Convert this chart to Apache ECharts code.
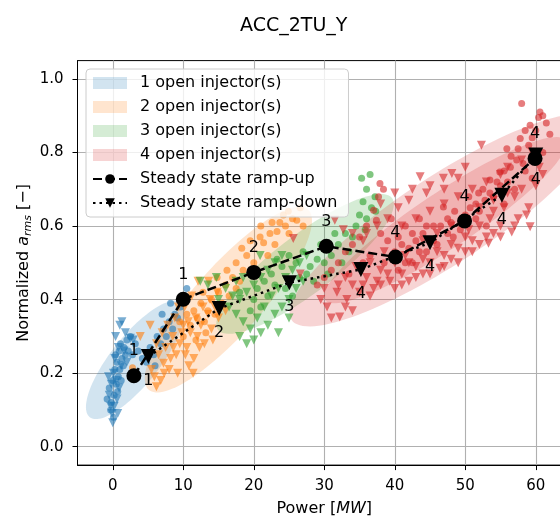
<!DOCTYPE html>
<html>
<head>
<meta charset="utf-8">
<script src="https://cdn.jsdelivr.net/npm/echarts@6/dist/echarts.min.js"></script>
<style>
html, body { margin: 0; padding: 0; background: #fff; }
#chart { width: 560px; height: 516px; }
</style>
</head>
<body>
<div id="chart"></div>
<script>
// scatter clouds, [power MW, normalized a_rms]; "up" = circles, "down" = triangles
const blueUp = [[-0.8,0.13],[-0.5,0.16],[-0.2,0.12],[0,0.18],[0.2,0.14],[0.3,0.21],[0.5,0.17],[0.6,0.23],[0.8,0.19],[0.9,0.26],[1.0,0.21],[1.1,0.28],[1.3,0.24],[1.5,0.22],[1.6,0.27],[1.8,0.25],[2.0,0.29],[2.2,0.26],[2.5,0.3],[0.4,0.25],[-0.3,0.1],[0.1,0.08],[0.7,0.15],[1.2,0.18],[2.8,0.25],[3.2,0.28],[3.6,0.26],[4.2,0.24],[4.8,0.23],[5.3,0.27],[5.8,0.25],[6.3,0.3],[6.8,0.28],[7.2,0.32],[7.6,0.3],[8.0,0.34],[8.5,0.32],[8.8,0.36],[9.2,0.35],[9.6,0.38],[10.5,0.43],[6.0,0.22],[7.0,0.36],[8.2,0.39]]
const blueDown = [[1.3,0.34],[1.0,0.33],[2.5,0.295],[2.9,0.29],[0.8,0.27],[0.3,0.24],[-0.1,0.09],[0.0,0.065],[-0.3,0.11],[-0.5,0.14],[0.1,0.2],[0.5,0.18],[0.6,0.13],[1.2,0.22],[0.9,0.16],[-0.2,0.17],[0.2,0.11],[1.6,0.26],[2.0,0.23],[0.4,0.3],[1.8,0.31],[-0.6,0.19],[0.7,0.09]]
const orangeUp = [[18.3,0.54],[19.5,0.56],[20.9,0.57],[21.4,0.555],[22.3,0.58],[22.6,0.61],[23.3,0.585],[23.7,0.61],[24.2,0.63],[24.9,0.64],[25.5,0.62],[26.1,0.616],[26.6,0.65],[24.5,0.6],[21.0,0.6],[19.0,0.52],[20.0,0.5],[23.0,0.55],[25.0,0.58],[17.5,0.5],[22.0,0.52],[27.0,0.6],[18.5,0.48],[11.0,0.33],[11.5,0.37],[12.0,0.35],[12.5,0.39],[13.0,0.34],[13.5,0.37],[14.0,0.4],[14.5,0.36],[15.0,0.42],[15.5,0.39],[16.0,0.44],[16.5,0.41],[17.0,0.46],[17.5,0.43],[18.0,0.45],[10.5,0.36],[12.8,0.42],[14.8,0.46],[9.5,0.34],[10.0,0.3],[16.2,0.48],[13.2,0.31],[11.8,0.29],[2.8,0.215]]
const orangeDown = [[3.9,0.30],[5.3,0.33],[6.2,0.163],[5.9,0.19],[7.2,0.227],[12.1,0.45],[13.6,0.45],[6.5,0.25],[7.5,0.27],[8.0,0.21],[8.5,0.3],[9.0,0.25],[9.5,0.28],[10.0,0.33],[10.5,0.27],[11.0,0.31],[11.5,0.24],[12.0,0.3],[12.5,0.33],[13.0,0.28],[13.5,0.36],[14.0,0.32],[14.5,0.38],[15.0,0.35],[8.8,0.35],[10.2,0.38],[11.2,0.41],[7.0,0.31],[9.2,0.2],[10.8,0.22],[6.8,0.18],[8.2,0.24],[14.8,0.42],[12.8,0.38],[16.0,0.37],[5.5,0.21],[7.8,0.33],[9.8,0.31],[11.8,0.35],[13.8,0.4],[9.3,0.38],[10.7,0.34],[12.3,0.27],[6.2,0.28],[8.6,0.27],[7.3,0.2],[14.2,0.29],[11.4,0.2],[10.3,0.25]]
const greenUp = [[36,0.70],[37.2,0.68],[35.5,0.666],[36.7,0.65],[37.3,0.64],[36,0.62],[35,0.63],[34.5,0.6],[33,0.58],[34,0.57],[35.8,0.59],[32,0.55],[31,0.52],[30,0.5],[29,0.51],[28,0.49],[27.5,0.47],[26,0.5],[25,0.52],[24,0.49],[23.3,0.51],[22.5,0.47],[21.5,0.45],[20.5,0.43],[20,0.4],[19.5,0.37],[21,0.38],[22,0.41],[23,0.44],[24.5,0.43],[26.5,0.46],[28.5,0.45],[30.5,0.47],[32.5,0.5],[33.5,0.53],[29.5,0.55],[27,0.53],[31.5,0.58],[35.3,0.73],[36.5,0.74],[18,0.42],[25.5,0.41]]
const greenDown = [[12.4,0.45],[14.7,0.46],[13.5,0.44],[16,0.43],[17,0.41],[18,0.4],[19,0.42],[20,0.44],[21,0.46],[22,0.48],[23,0.5],[24,0.52],[16.5,0.38],[17.5,0.36],[18.5,0.34],[19.5,0.32],[20.5,0.35],[21.5,0.38],[22.5,0.41],[23.5,0.43],[24.5,0.46],[25.5,0.48],[26.5,0.5],[20,0.29],[21,0.31],[22,0.33],[23,0.36],[24,0.38],[25,0.4],[26,0.43],[27,0.45],[18,0.3],[19,0.28],[23.5,0.31],[25,0.35],[15,0.4],[27.5,0.52],[17.5,0.45],[18.5,0.46],[20.9,0.52]]
const redUp = [[58,0.933],[60.6,0.91],[60.4,0.895],[59.2,0.874],[60,0.86],[57.8,0.838],[59,0.82],[55.9,0.81],[57.3,0.78],[58.2,0.77],[56.4,0.76],[54.9,0.747],[53.5,0.725],[55,0.71],[51.9,0.69],[52.8,0.67],[50.7,0.65],[51.5,0.62],[49.3,0.59],[48.3,0.57],[46.9,0.652],[47.5,0.62],[45.5,0.6],[44,0.58],[43,0.56],[42,0.54],[41,0.55],[40,0.53],[39,0.56],[38,0.58],[37.9,0.716],[38.4,0.70],[37.7,0.68],[37,0.643],[37.4,0.616],[36,0.6],[35,0.57],[34,0.55],[33,0.53],[32,0.5],[31,0.48],[30,0.46],[36.5,0.52],[38.5,0.5],[40.5,0.48],[42.5,0.5],[44.5,0.53],[46,0.55],[48,0.61],[50,0.63],[52,0.64],[54,0.68],[56,0.72],[58.5,0.75],[61,0.8],[62,0.85],[53,0.6],[55.5,0.66],[57,0.7],[59.5,0.73],[43.5,0.62],[41.5,0.6],[39.5,0.62],[35.5,0.5],[33.5,0.47],[29,0.44],[40.5,0.57],[41.5,0.5],[42.5,0.58],[43.5,0.53],[44.5,0.6],[45.5,0.56],[46.5,0.6],[47.5,0.58],[48.5,0.64],[49.5,0.62],[50.5,0.68],[51.5,0.66],[52.5,0.7],[53.5,0.69],[54.5,0.72],[55.5,0.75],[56.5,0.79],[57.5,0.81],[58.5,0.86],[59.5,0.84],[61.5,0.88],[61,0.9]]
const redDown = [[25.6,0.566],[31.5,0.616],[32.7,0.59],[34,0.58],[35.5,0.56],[30.4,0.38],[31,0.35],[32.2,0.353],[33.2,0.4],[31.8,0.42],[34,0.37],[35.5,0.44],[36.5,0.41],[37.5,0.45],[39.3,0.45],[38,0.48],[40,0.43],[41,0.47],[42,0.45],[43,0.49],[44,0.47],[45,0.5],[46.4,0.485],[47,0.52],[48,0.51],[49,0.54],[50,0.53],[51,0.56],[52,0.55],[53.3,0.553],[54,0.58],[55,0.6],[56.6,0.584],[57.5,0.62],[58.7,0.63],[59.2,0.598],[52.3,0.82],[48.1,0.743],[46.9,0.73],[43.6,0.734],[44.5,0.69],[42,0.67],[40.5,0.65],[39,0.62],[37.5,0.6],[36,0.58],[41,0.6],[43,0.62],[45,0.64],[47,0.66],[49,0.68],[51,0.7],[53,0.72],[55,0.74],[56,0.76],[58,0.78],[59.5,0.8],[50,0.62],[52,0.65],[54,0.67],[46,0.58],[44,0.56],[48,0.6],[29.5,0.4],[30,0.43],[26.6,0.47],[38.5,0.53],[36.5,0.5],[34.5,0.49],[33,0.46],[41.5,0.52],[50.5,0.59],[53.5,0.62],[55.5,0.65],[57,0.68],[60,0.71],[33,0.38],[35,0.42],[37,0.43],[39,0.47],[41,0.44],[43,0.46],[45,0.47],[47,0.49],[49,0.5],[51,0.53],[53,0.57],[55,0.57],[57,0.6],[59,0.65],[58,0.7],[56,0.69],[54,0.64],[52,0.6],[50,0.57],[48,0.55],[46,0.53],[44,0.51],[42,0.5],[40,0.5],[38,0.44],[36,0.46],[34,0.44],[32,0.44],[45,0.71],[47,0.7],[49,0.73],[50,0.76],[42.5,0.7],[40,0.69],[38,0.66],[60.5,0.76],[61,0.74]]

// confidence ellipses: [centre x, centre y, semi-axis a (dx, dy), semi-axis b (dx, dy)] in data units
const blueEllipse = [[3.2, 0.236, 6.5, 0.155, 2.6, -0.043]]
const orangeEllipse = [[16.4, 0.40, 11.3, 0.245, 3.6, -0.061]]
const greenEllipse = [[27.28, 0.497, 12.34, 0.179, 2.5, -0.064]]
const redEllipse = [[46.94, 0.616, 21.59, 0.271, 3.42, -0.100], [47.13, 0.616, 17.02, 0.217, 2.2, -0.063]]

// steady state operating points
const upPower = [3, 10, 20, 30.3, 40.1, 49.9, 59.9]
const upLevel = [0.193, 0.401, 0.474, 0.545, 0.516, 0.614, 0.784]
const upLabel = ['1', '1', '2', '3', '4', '4', '4']
const downPower = [5.05, 15.1, 25.05, 35.2, 45.0, 55.2, 60]
const downLevel = [0.245, 0.376, 0.446, 0.482, 0.555, 0.684, 0.793]
const downLabel = ['1', '2', '3', '4', '4', '4', '4']

const xTicks = [0, 10, 20, 30, 40, 50, 60]
const yTicks = [0, 0.2, 0.4, 0.6, 0.8, 1.0]

const colors = ['#1f77b4', '#ff7f0e', '#2ca02c', '#d62728']
const names = ['1 open injector(s)', '2 open injector(s)', '3 open injector(s)', '4 open injector(s)']
const triDown = 'path://M0,0L10,0L5,10Z'

function rgba(hex, a) {
  const n = parseInt(hex.slice(1), 16)
  return `rgba(${n >> 16},${(n >> 8) & 255},${n & 255},${a})`
}

function ellipseSeries(name, color, data) {
  return {
    name: name,
    type: 'custom',
    z: 1,
    silent: true,
    itemStyle: { color: rgba(color, 0.2) },
    encode: { x: 0, y: 1 },
    data: data,
    renderItem: function (params, api) {
      const cx = api.value(0), cy = api.value(1)
      const ax = api.value(2), ay = api.value(3)
      const bx = api.value(4), by = api.value(5)
      const pts = []
      for (let i = 0; i < 120; i++) {
        const t = (i / 120) * Math.PI * 2
        pts.push(api.coord([cx + ax * Math.cos(t) + bx * Math.sin(t), cy + ay * Math.cos(t) + by * Math.sin(t)]))
      }
      return { type: 'polygon', shape: { points: pts }, style: { fill: rgba(color, 0.2) } }
    }
  }
}

function cloud(color, data, symbol, size) {
  return {
    type: 'scatter',
    z: 2,
    silent: true,
    symbol: symbol,
    symbolSize: size,
    itemStyle: { color: color, opacity: 0.6 },
    data: data
  }
}

const font = 'DejaVu Sans'
const chart = echarts.init(document.getElementById('chart'))

const series = [
  ellipseSeries(names[0], colors[0], blueEllipse),
  ellipseSeries(names[1], colors[1], orangeEllipse),
  ellipseSeries(names[2], colors[2], greenEllipse),
  ellipseSeries(names[3], colors[3], redEllipse),
  cloud(colors[0], blueUp, 'circle', 7),
  cloud(colors[0], blueDown, triDown, 9),
  cloud(colors[1], orangeUp, 'circle', 7),
  cloud(colors[1], orangeDown, triDown, 9),
  cloud(colors[2], greenUp, 'circle', 7),
  cloud(colors[2], greenDown, triDown, 9),
  cloud(colors[3], redUp, 'circle', 7),
  cloud(colors[3], redDown, triDown, 9),
  {
    name: 'Steady state ramp-up',
    type: 'line',
    z: 4,
    symbol: 'circle',
    symbolSize: 15,
    itemStyle: { color: '#000' },
    lineStyle: { color: '#000', width: 2.5, type: [9, 4] },
    label: {
      show: true, position: 'top', distance: 9, color: '#000',
      fontSize: 16, fontFamily: font,
      formatter: p => p.data[2]
    },
    data: upPower.map((x, i) => [x, upLevel[i], upLabel[i]])
  },
  {
    name: 'Steady state ramp-down',
    type: 'line',
    z: 4,
    symbol: triDown,
    symbolSize: 15,
    itemStyle: { color: '#000' },
    lineStyle: { color: '#000', width: 2.5, type: [2.5, 4] },
    label: {
      show: true, position: 'bottom', distance: 9, color: '#000',
      fontSize: 16, fontFamily: font,
      formatter: p => p.data[2]
    },
    data: downPower.map((x, i) => [x, downLevel[i], downLabel[i]])
  }
]

chart.setOption({
  animation: false,
  textStyle: { fontFamily: font },
  title: {
    text: 'ACC_2TU_Y',
    left: 235,
    top: 12,
    textStyle: { fontSize: 19, fontWeight: 'normal', color: '#000', fontFamily: font }
  },
  grid: {
    left: 77.5, top: 60.6, width: 493.5, height: 404.5,
    outerBoundsMode: 'none',
    show: true, borderColor: '#000', borderWidth: 1
  },
  legend: {
    left: 86,
    top: 69,
    orient: 'vertical',
    padding: [6, 11, 6, 6],
    itemWidth: 34,
    itemHeight: 12,
    itemGap: 8,
    backgroundColor: 'rgba(255,255,255,0.8)',
    borderColor: '#cccccc',
    borderWidth: 1,
    borderRadius: 4,
    selectedMode: false,
    textStyle: { fontSize: 16, color: '#000', fontFamily: font, padding: [0, 0, 0, 8] },
    data: [
      { name: names[0], icon: 'rect', itemStyle: { color: rgba(colors[0], 0.2) } },
      { name: names[1], icon: 'rect', itemStyle: { color: rgba(colors[1], 0.2) } },
      { name: names[2], icon: 'rect', itemStyle: { color: rgba(colors[2], 0.2) } },
      { name: names[3], icon: 'rect', itemStyle: { color: rgba(colors[3], 0.2) } },
      'Steady state ramp-up',
      'Steady state ramp-down'
    ]
  },
  xAxis: {
    type: 'value',
    min: -5,
    max: 65,
    splitNumber: 7,
    name: 'Power [{i|MW}]',
    nameLocation: 'middle',
    nameGap: 36,
    nameTextStyle: {
      fontSize: 16, color: '#000', fontFamily: font,
      rich: { i: { fontSize: 16, fontStyle: 'italic', color: '#000', fontFamily: font } }
    },
    axisLine: { show: true, onZero: false, lineStyle: { color: '#000', width: 1 } },
    axisTick: { show: true, inside: false, length: 5, customValues: xTicks, lineStyle: { color: '#000' } },
    axisLabel: { fontSize: 15, color: '#000', margin: 14, customValues: xTicks },
    splitLine: { show: true, lineStyle: { color: '#b0b0b0', width: 1.1 } }
  },
  yAxis: {
    type: 'value',
    min: -0.05,
    max: 1.05,
    splitNumber: 6,
    name: 'Normalized {i|a}{s|rms} [−]',
    nameLocation: 'middle',
    nameRotate: 90,
    nameGap: 44,
    nameMoveOverlap: false,
    nameTextStyle: {
      fontSize: 16, color: '#000', fontFamily: font,
      rich: {
        i: { fontSize: 16, fontStyle: 'italic', color: '#000', fontFamily: font },
        s: { fontSize: 11, fontStyle: 'italic', color: '#000', fontFamily: font, padding: [8, 0, 0, 0] }
      }
    },
    axisLine: { show: true, onZero: false, lineStyle: { color: '#000', width: 1 } },
    axisTick: { show: true, inside: false, length: 5, customValues: yTicks, lineStyle: { color: '#000' } },
    axisLabel: {
      fontSize: 15, color: '#000', margin: 14, customValues: yTicks,
      formatter: v => v.toFixed(1)
    },
    splitLine: { show: true, lineStyle: { color: '#b0b0b0', width: 1.1 } }
  },
  series: series
})
</script>
</body>
</html>
